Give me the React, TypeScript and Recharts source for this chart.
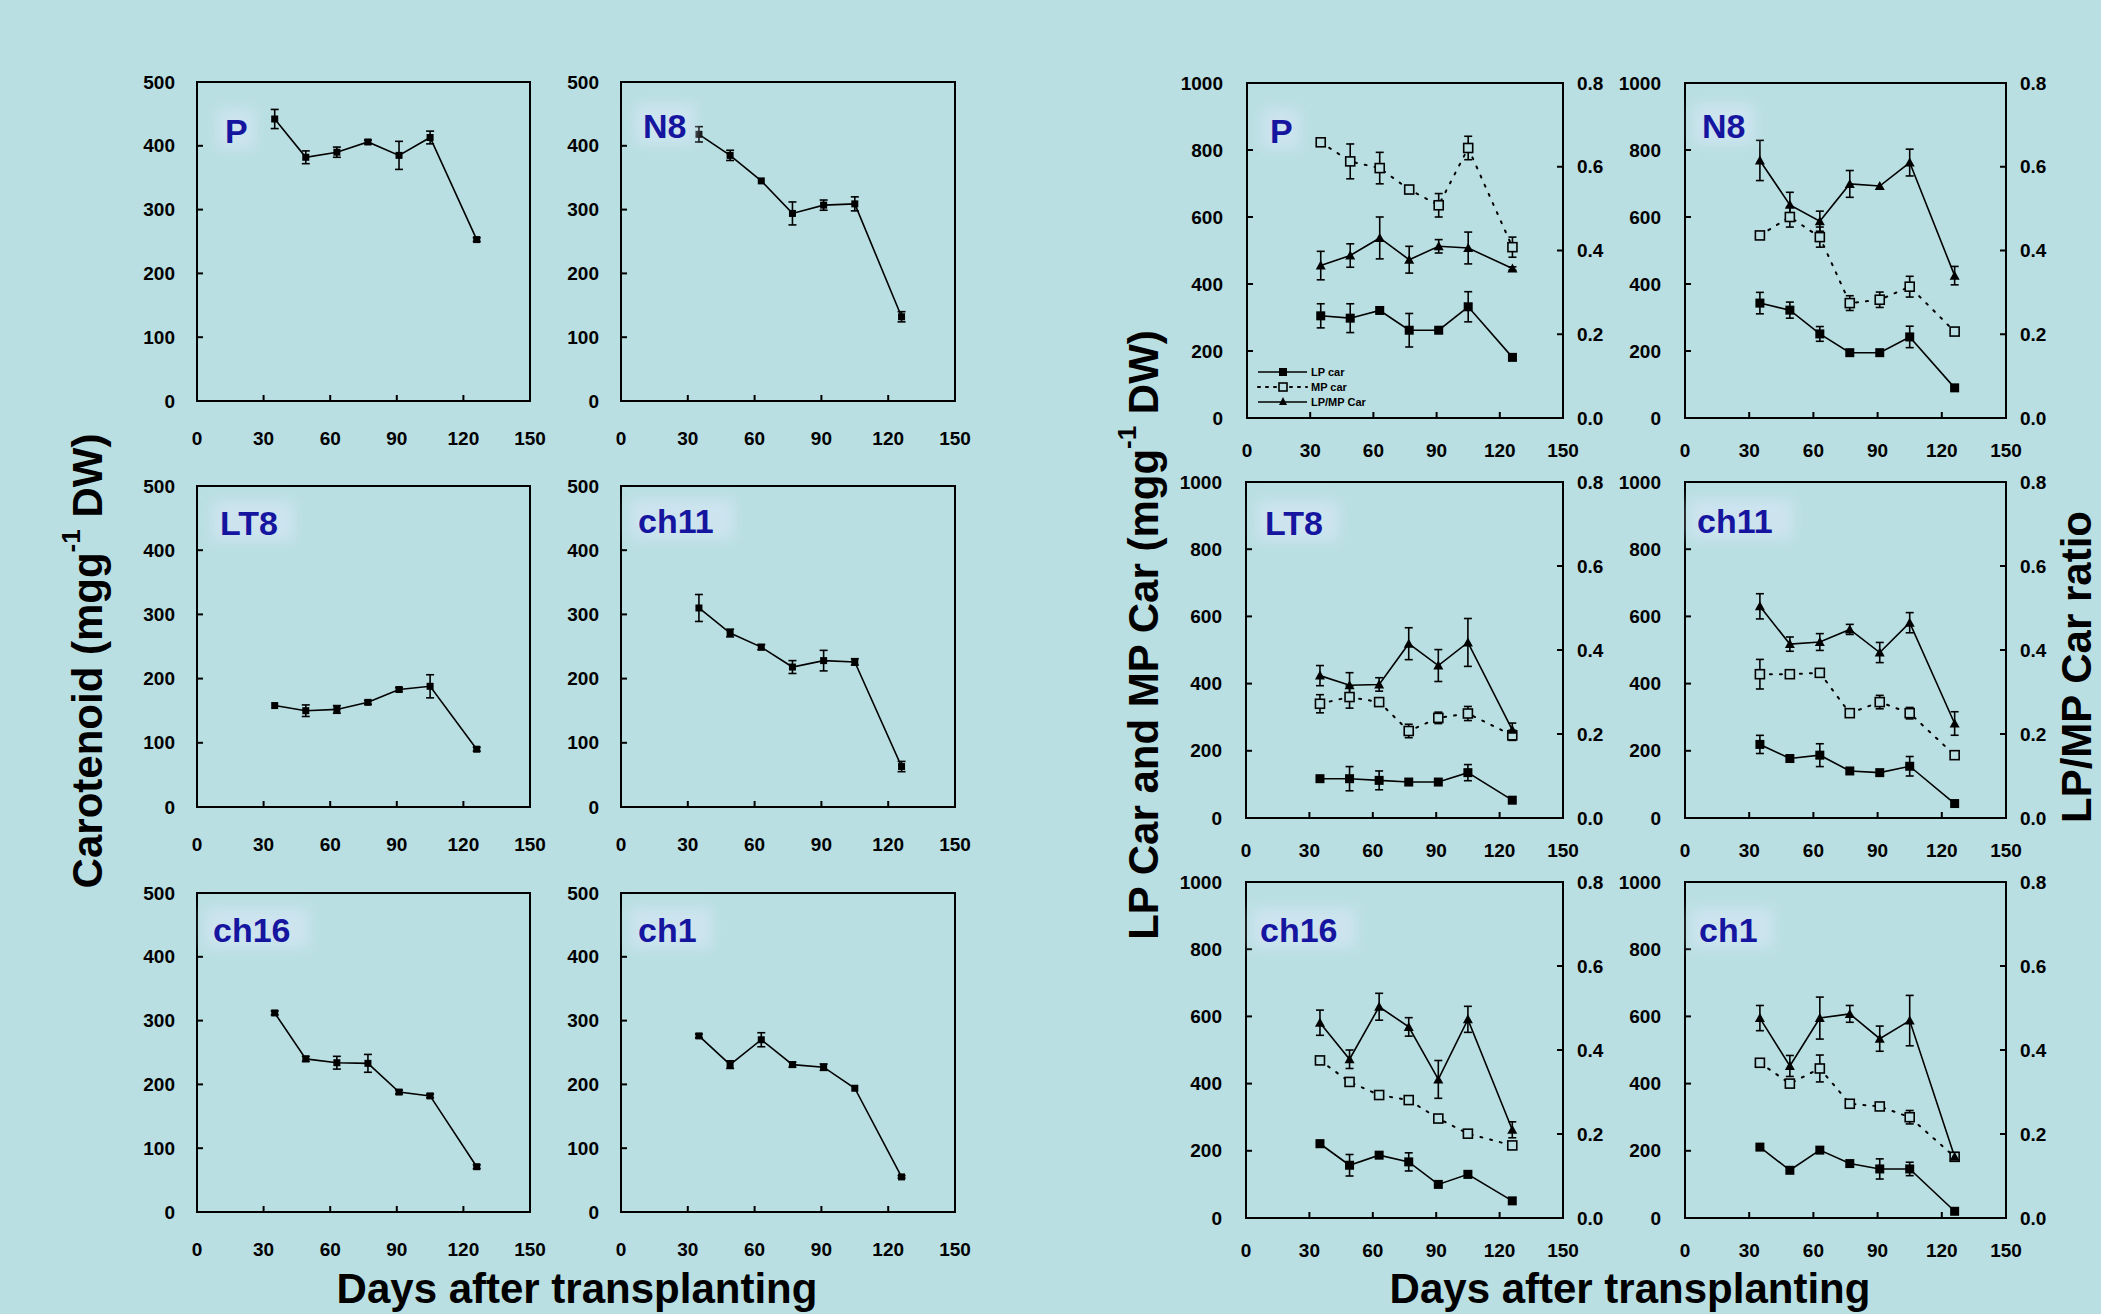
import React from 'react';
import { LineChart, Line, XAxis, YAxis, ErrorBar, ReferenceArea } from 'recharts';

// sampling days (days after transplanting)
const days = [35, 49, 63, 77, 91, 105, 126];
const xTicks = [0, 30, 60, 90, 120, 150];
const carTicks = [0, 100, 200, 300, 400, 500];
const lpmpTicks = [0, 200, 400, 600, 800, 1000];
const ratioTicks = [0, 0.2, 0.4, 0.6, 0.8];

// total carotenoid (left block)
const carP = [442, 382, 390, 406, 385, 413, 253];
const carPErr = [15, 10, 8, 3, 22, 10, 3];
const carN8 = [418, 385, 345, 294, 307, 309, 132];
const carN8Err = [12, 8, 0, 18, 8, 11, 8];
const carLT8 = [158, 150, 152, 163, 183, 188, 90];
const carLT8Err = [0, 9, 6, 3, 3, 18, 3];
const carCh11 = [310, 271, 249, 218, 228, 226, 63];
const carCh11Err = [21, 6, 4, 10, 16, 5, 8];
const carCh16 = [312, 240, 234, 233, 188, 182, 71];
const carCh16Err = [3, 4, 10, 14, 3, 3, 3];
const carCh1 = [276, 231, 270, 231, 227, 194, 55];
const carCh1Err = [3, 6, 11, 4, 5, 0, 2];

// LP car, MP car and LP/MP ratio (right block)
const lpP = [305, 298, 321, 262, 262, 332, 181];
const lpPErr = [36, 43, 8, 50, 5, 45, 5];
const mpP = [823, 766, 746, 682, 635, 806, 510];
const mpPErr = [8, 52, 47, 8, 35, 35, 30];
const ratioP = [0.364, 0.388, 0.43, 0.378, 0.41, 0.406, 0.357];
const ratioPErr = [0.034, 0.028, 0.05, 0.032, 0.016, 0.038, 0.004];

const lpN8 = [343, 322, 251, 195, 195, 242, 90];
const lpN8Err = [32, 24, 22, 0, 0, 32, 3];
const mpN8 = [545, 600, 540, 343, 353, 392, 258];
const mpN8Err = [0, 30, 30, 22, 23, 31, 0];
const ratioN8 = [0.615, 0.509, 0.47, 0.559, 0.554, 0.61, 0.34];
const ratioN8Err = [0.048, 0.03, 0.024, 0.032, 0, 0.032, 0.022];

const lpLT8 = [117, 117, 112, 107, 107, 135, 53];
const lpLT8Err = [0, 36, 28, 0, 0, 24, 0];
const mpLT8 = [340, 360, 345, 259, 298, 311, 246];
const mpLT8Err = [27, 33, 0, 20, 17, 21, 15];
const ratioLT8 = [0.339, 0.316, 0.318, 0.415, 0.363, 0.418, 0.21];
const ratioLT8Err = [0.024, 0.03, 0.016, 0.038, 0.038, 0.057, 0.016];

const lpCh11 = [219, 177, 187, 140, 135, 154, 43];
const lpCh11Err = [27, 0, 34, 0, 0, 29, 0];
const mpCh11 = [428, 428, 432, 312, 345, 312, 187];
const mpCh11Err = [44, 8, 0, 0, 20, 17, 0];
const ratioCh11 = [0.504, 0.414, 0.419, 0.449, 0.394, 0.465, 0.225];
const ratioCh11Err = [0.03, 0.017, 0.02, 0.012, 0.024, 0.024, 0.028];

const lpCh16 = [221, 157, 187, 167, 100, 130, 51];
const lpCh16Err = [10, 32, 0, 27, 0, 10, 0];
const mpCh16 = [469, 405, 366, 351, 296, 251, 216];
const mpCh16Err = [0, 0, 0, 8, 0, 0, 0];
const ratioCh16 = [0.465, 0.378, 0.503, 0.455, 0.33, 0.473, 0.21];
const ratioCh16Err = [0.03, 0.022, 0.032, 0.022, 0.045, 0.031, 0.019];

const lpCh1 = [211, 142, 202, 162, 146, 146, 20];
const lpCh1Err = [0, 0, 0, 0, 30, 20, 0];
const mpCh1 = [462, 400, 445, 340, 332, 300, 182];
const mpCh1Err = [0, 0, 40, 0, 0, 20, 0];
const ratioCh1 = [0.476, 0.362, 0.476, 0.486, 0.427, 0.47, 0.146];
const ratioCh1Err = [0.03, 0.025, 0.05, 0.02, 0.03, 0.06, 0.01];

const BG = '#b9dfe2';
const INK = '#000';
const LABEL_BLUE = '#1515a0';
const tickFont = { fontFamily: 'Liberation Sans, Arial, sans-serif', fontWeight: 700, fontSize: 19, fill: INK };

const leftTick = (gap: number) => (p: any) => (
  <g>
    <line x1={p.x} x2={p.x + 6} y1={p.y} y2={p.y} stroke={INK} strokeWidth={2} />
    <text x={p.x - gap} y={p.y} textAnchor="end" dominantBaseline="central" {...tickFont}>
      {p.payload.value}
    </text>
  </g>
);

const rightTick = (gap: number) => (p: any) => (
  <g>
    <line x1={p.x} x2={p.x - 6} y1={p.y} y2={p.y} stroke={INK} strokeWidth={2} />
    <text x={p.x + gap} y={p.y} textAnchor="start" dominantBaseline="central" {...tickFont}>
      {Number(p.payload.value).toFixed(1)}
    </text>
  </g>
);

const bottomTick = (gap: number) => (p: any) => (
  <g>
    <line x1={p.x} x2={p.x} y1={p.y} y2={p.y - 6} stroke={INK} strokeWidth={2} />
    <text x={p.x} y={p.y + gap} textAnchor="middle" dominantBaseline="central" {...tickFont}>
      {p.payload.value}
    </text>
  </g>
);

const squareDot = (size: number, filled: boolean) => (p: any) => {
  if (p.cx == null || p.cy == null) return <g key={p.index} />;
  return (
    <rect
      key={p.index}
      x={p.cx - size / 2}
      y={p.cy - size / 2}
      width={size}
      height={size}
      fill={filled ? INK : BG}
      stroke={INK}
      strokeWidth={filled ? 0 : 1.6}
    />
  );
};

const triangleDot = (p: any) => {
  if (p.cx == null || p.cy == null) return <g key={p.index} />;
  const s = 5;
  return (
    <polygon
      key={p.index}
      points={`${p.cx},${p.cy - s} ${p.cx - s},${p.cy + s * 0.8} ${p.cx + s},${p.cy + s * 0.8}`}
      fill={INK}
    />
  );
};

type Box = { x: number; y: number; w: number; h: number };

function CarPanel({ box, values, errs }: { box: Box; values: number[]; errs: number[] }) {
  const padL = 60, padR = 20, padT = 20, padB = 50;
  const data = days.map((d, i) => ({ day: d, v: values[i], e: errs[i] }));
  return (
    <div style={{ position: 'absolute', left: box.x - padL, top: box.y - padT }}>
      <LineChart
        width={box.w + padL + padR}
        height={box.h + padT + padB}
        data={data}
        margin={{ top: padT, right: padR, left: 0, bottom: 0 }}
      >
        <XAxis dataKey="day" type="number" domain={[0, 150]} ticks={xTicks} interval={0}
          height={padB} axisLine={false} tickLine={false} tickSize={0} tickMargin={0} tick={bottomTick(37)} />
        <YAxis yAxisId="l" type="number" domain={[0, 500]} ticks={carTicks} interval={0}
          width={padL} axisLine={false} tickLine={false} tickSize={0} tickMargin={0} tick={leftTick(22)} />
        <ReferenceArea yAxisId="l" x1={0} x2={150} y1={0} y2={500} fill="none" stroke={INK} strokeWidth={2} ifOverflow="visible" />
        <Line yAxisId="l" dataKey="v" stroke={INK} strokeWidth={1.6} dot={squareDot(7, true)} isAnimationActive={false}>
          <ErrorBar dataKey="e" width={4} stroke={INK} strokeWidth={1.6} direction="y" />
        </Line>
      </LineChart>
    </div>
  );
}

function PartPanel(props: {
  box: Box; lp: number[]; lpErr: number[]; mp: number[]; mpErr: number[]; ratio: number[]; ratioErr: number[];
}) {
  const { box } = props;
  const padL = 70, padR = 60, padT = 20, padB = 50;
  const data = days.map((d, i) => ({
    day: d,
    lp: props.lp[i], lpE: props.lpErr[i],
    mp: props.mp[i], mpE: props.mpErr[i],
    r: props.ratio[i], rE: props.ratioErr[i],
  }));
  return (
    <div style={{ position: 'absolute', left: box.x - padL, top: box.y - padT }}>
      <LineChart
        width={box.w + padL + padR}
        height={box.h + padT + padB}
        data={data}
        margin={{ top: padT, right: 0, left: 0, bottom: 0 }}
      >
        <XAxis dataKey="day" type="number" domain={[0, 150]} ticks={xTicks} interval={0}
          height={padB} axisLine={false} tickLine={false} tickSize={0} tickMargin={0} tick={bottomTick(32)} />
        <YAxis yAxisId="l" type="number" domain={[0, 1000]} ticks={lpmpTicks} interval={0}
          width={padL} axisLine={false} tickLine={false} tickSize={0} tickMargin={0} tick={leftTick(24)} />
        <YAxis yAxisId="r" orientation="right" type="number" domain={[0, 0.8]} ticks={ratioTicks} interval={0}
          width={padR} axisLine={false} tickLine={false} tickSize={0} tickMargin={0} tick={rightTick(14)} />
        <ReferenceArea yAxisId="l" x1={0} x2={150} y1={0} y2={1000} fill="none" stroke={INK} strokeWidth={2} ifOverflow="visible" />
        <Line yAxisId="l" dataKey="mp" stroke={INK} strokeWidth={2} strokeDasharray="2 8" strokeLinecap="round"
          dot={squareDot(9, false)} isAnimationActive={false}>
          <ErrorBar dataKey="mpE" width={4} stroke={INK} strokeWidth={1.6} direction="y" />
        </Line>
        <Line yAxisId="l" dataKey="lp" stroke={INK} strokeWidth={1.6} dot={squareDot(9, true)} isAnimationActive={false}>
          <ErrorBar dataKey="lpE" width={4} stroke={INK} strokeWidth={1.6} direction="y" />
        </Line>
        <Line yAxisId="r" dataKey="r" stroke={INK} strokeWidth={1.6} dot={triangleDot} isAnimationActive={false}>
          <ErrorBar dataKey="rE" width={4} stroke={INK} strokeWidth={1.6} direction="y" />
        </Line>
      </LineChart>
    </div>
  );
}

const carPanels = [
  { name: 'P', box: { x: 197, y: 82, w: 333, h: 319 }, values: carP, errs: carPErr, lx: 225, ly: 143 },
  { name: 'N8', box: { x: 621, y: 82, w: 334, h: 319 }, values: carN8, errs: carN8Err, lx: 643, ly: 138 },
  { name: 'LT8', box: { x: 197, y: 486, w: 333, h: 321 }, values: carLT8, errs: carLT8Err, lx: 220, ly: 535 },
  { name: 'ch11', box: { x: 621, y: 486, w: 334, h: 321 }, values: carCh11, errs: carCh11Err, lx: 638, ly: 533 },
  { name: 'ch16', box: { x: 197, y: 893, w: 333, h: 319 }, values: carCh16, errs: carCh16Err, lx: 213, ly: 942 },
  { name: 'ch1', box: { x: 621, y: 893, w: 334, h: 319 }, values: carCh1, errs: carCh1Err, lx: 638, ly: 942 },
];

const partPanels = [
  { name: 'P', box: { x: 1247, y: 83, w: 316, h: 335 }, lp: lpP, lpErr: lpPErr, mp: mpP, mpErr: mpPErr, ratio: ratioP, ratioErr: ratioPErr, lx: 1270, ly: 143 },
  { name: 'N8', box: { x: 1685, y: 83, w: 321, h: 335 }, lp: lpN8, lpErr: lpN8Err, mp: mpN8, mpErr: mpN8Err, ratio: ratioN8, ratioErr: ratioN8Err, lx: 1702, ly: 138 },
  { name: 'LT8', box: { x: 1246, y: 482, w: 317, h: 336 }, lp: lpLT8, lpErr: lpLT8Err, mp: mpLT8, mpErr: mpLT8Err, ratio: ratioLT8, ratioErr: ratioLT8Err, lx: 1265, ly: 535 },
  { name: 'ch11', box: { x: 1685, y: 482, w: 321, h: 336 }, lp: lpCh11, lpErr: lpCh11Err, mp: mpCh11, mpErr: mpCh11Err, ratio: ratioCh11, ratioErr: ratioCh11Err, lx: 1697, ly: 533 },
  { name: 'ch16', box: { x: 1246, y: 882, w: 317, h: 336 }, lp: lpCh16, lpErr: lpCh16Err, mp: mpCh16, mpErr: mpCh16Err, ratio: ratioCh16, ratioErr: ratioCh16Err, lx: 1260, ly: 942 },
  { name: 'ch1', box: { x: 1685, y: 882, w: 321, h: 336 }, lp: lpCh1, lpErr: lpCh1Err, mp: mpCh1, mpErr: mpCh1Err, ratio: ratioCh1, ratioErr: ratioCh1Err, lx: 1699, ly: 942 },
];

const titleFont = { fontFamily: 'Liberation Sans, Arial, sans-serif', fontWeight: 700, fontSize: 42, fill: INK };
const labelFont = { fontFamily: 'Liberation Sans, Arial, sans-serif', fontWeight: 700, fontSize: 34, fill: LABEL_BLUE };
const legendFont = { fontFamily: 'Liberation Sans, Arial, sans-serif', fontWeight: 700, fontSize: 11, fill: INK };

function Overlay() {
  const labels = [...carPanels, ...partPanels];
  return (
    <svg width={2101} height={1314} style={{ position: 'absolute', left: 0, top: 0, pointerEvents: 'none' }}>
      <defs>
        <filter id="glow" x="-50%" y="-50%" width="200%" height="200%">
          <feGaussianBlur stdDeviation="7" />
        </filter>
      </defs>
      {labels.map((p, i) => (
        <g key={i}>
          <rect x={p.lx - 8} y={p.ly - 34} width={p.name.length * 22 + 16} height={40} fill="#d6e6f4" opacity={0.7} filter="url(#glow)" />
          <text x={p.lx} y={p.ly} {...labelFont}>{p.name}</text>
        </g>
      ))}

      {/* axis titles */}
      <text x={87} y={661} transform="rotate(-90 87 661)" textAnchor="middle" dominantBaseline="central" {...titleFont}>
        Carotenoid (mgg<tspan fontSize={26} dy={-16}>-1</tspan><tspan dy={16}> DW)</tspan>
      </text>
      <text x={1143} y={635} transform="rotate(-90 1143 635)" textAnchor="middle" dominantBaseline="central" {...titleFont}>
        LP Car and MP Car (mgg<tspan fontSize={26} dy={-16}>-1</tspan><tspan dy={16}> DW)</tspan>
      </text>
      <text x={2076} y={667} transform="rotate(-90 2076 667)" textAnchor="middle" dominantBaseline="central" {...titleFont}>
        LP/MP Car ratio
      </text>
      <text x={577} y={1303} textAnchor="middle" {...titleFont}>Days after transplanting</text>
      <text x={1630} y={1303} textAnchor="middle" {...titleFont}>Days after transplanting</text>

      {/* legend in the P panel of the right block */}
      <g>
        <line x1={1258} x2={1307} y1={372} y2={372} stroke={INK} strokeWidth={1.6} />
        <rect x={1279} y={368} width={8} height={8} fill={INK} />
        <text x={1311} y={376} {...legendFont}>LP car</text>
        <line x1={1258} x2={1307} y1={387} y2={387} stroke={INK} strokeWidth={2} strokeDasharray="2 6" strokeLinecap="round" />
        <rect x={1279} y={383} width={8} height={8} fill={BG} stroke={INK} strokeWidth={1.6} />
        <text x={1311} y={391} {...legendFont}>MP car</text>
        <line x1={1258} x2={1307} y1={402} y2={402} stroke={INK} strokeWidth={1.6} />
        <polygon points="1283,397 1279,405 1287,405" fill={INK} />
        <text x={1311} y={406} {...legendFont}>LP/MP Car</text>
      </g>
    </svg>
  );
}

export default function App() {
  return (
    <div style={{ position: 'absolute', left: 0, top: 0, width: 2101, height: 1314, background: BG, overflow: 'hidden' }}>
      {carPanels.map((p) => (
        <CarPanel key={'c' + p.name} box={p.box} values={p.values} errs={p.errs} />
      ))}
      {partPanels.map((p) => (
        <PartPanel key={'p' + p.name} box={p.box} lp={p.lp} lpErr={p.lpErr} mp={p.mp} mpErr={p.mpErr} ratio={p.ratio} ratioErr={p.ratioErr} />
      ))}
      <Overlay />
    </div>
  );
}
